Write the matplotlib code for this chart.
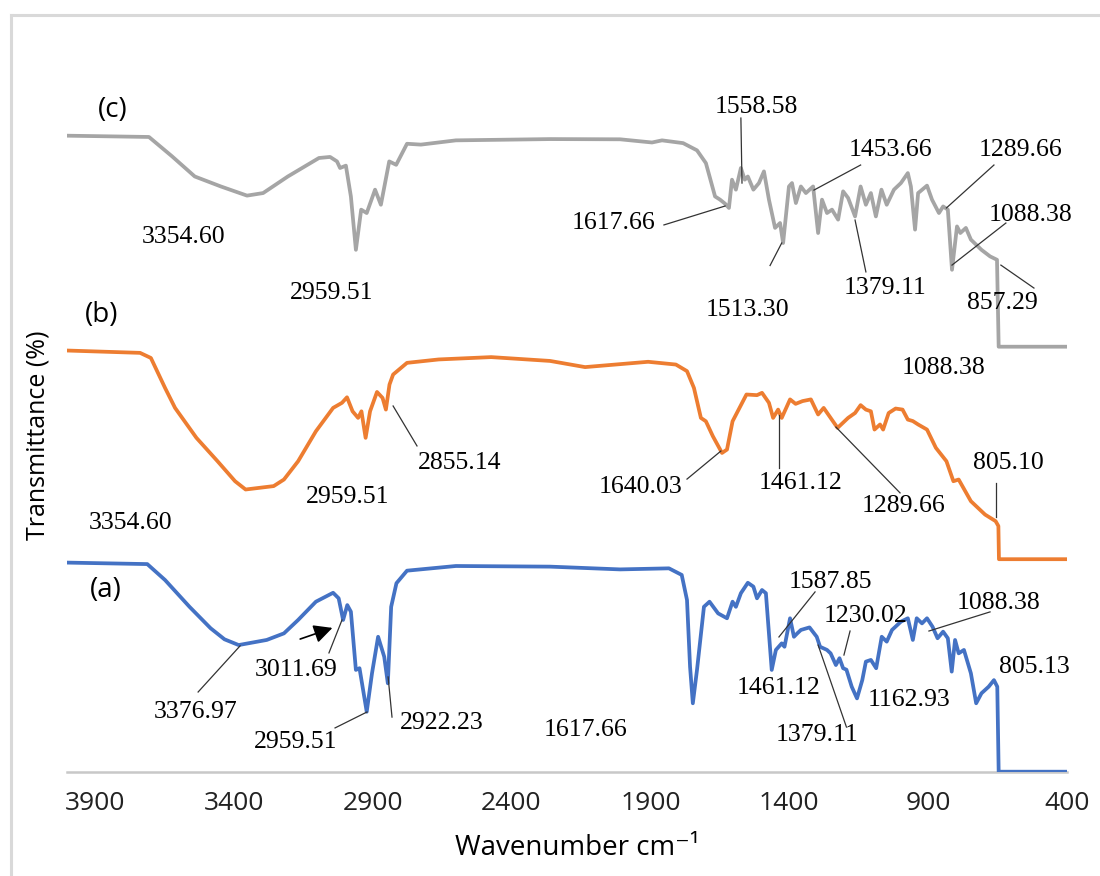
import matplotlib
matplotlib.use("Agg")
import matplotlib.pyplot as plt
from matplotlib.lines import Line2D

# ---- spectra (wavenumber cm-1, transmittance %) ----
wn_a = [4000, 3711, 3647, 3559, 3483, 3433, 3382, 3281, 3219, 3168, 3104, 3042, 3022, 3006,
        2991, 2978, 2960, 2947, 2921, 2902, 2880, 2858, 2845, 2833, 2814, 2776, 2600, 2261,
        2009, 1833, 1787, 1768, 1757, 1747, 1732, 1707, 1687, 1656, 1624, 1604, 1592, 1574,
        1549, 1529, 1516, 1498, 1484, 1473, 1463, 1448, 1427, 1417, 1397, 1383, 1371, 1358,
        1327, 1301, 1289, 1264, 1251, 1232, 1219, 1206, 1194, 1175, 1156, 1137, 1124, 1106,
        1087, 1067, 1049, 1030, 998, 973, 955, 941, 922, 904, 884, 866, 846, 829, 815, 803,
        790, 771, 746, 727, 708, 682, 663, 651, 646, 400]
t_a = [98.4, 97.7, 90.2, 77.6, 67.5, 62.3, 59.6, 62.0, 65.1, 71.4, 80.0, 84.2, 81.6, 71.4,
       78.4, 75.3, 47.9, 48.7, 28.2, 46.3, 63.5, 54.1, 41.6, 77.6, 88.7, 94.6, 96.8, 96.5,
       95.2, 95.7, 92.6, 80.8, 49.4, 32.2, 47.9, 77.6, 80.0, 74.5, 72.2, 80.0, 77.6, 84.0,
       88.9, 87.1, 81.6, 85.5, 84.0, 65.1, 47.9, 57.3, 60.4, 58.8, 72.2, 63.5, 65.1, 66.7,
       67.9, 63.5, 58.8, 57.3, 55.7, 50.2, 53.4, 48.7, 48.0, 40.0, 34.5, 43.1, 51.8, 52.6,
       48.7, 63.5, 61.2, 66.7, 70.6, 72.2, 62.0, 72.2, 69.8, 72.2, 68.2, 62.8, 65.9, 62.8,
       47.1, 62.0, 55.7, 57.3, 46.3, 32.2, 36.9, 40.0, 43.1, 40.0, 0, 0]

wn_b = [4000, 3737, 3698, 3647, 3611, 3534, 3458, 3395, 3357, 3256, 3219, 3168, 3104, 3042,
        3010, 2992, 2972, 2952, 2940, 2925, 2909, 2884, 2864, 2852, 2839, 2826, 2776, 2662,
        2473, 2261, 2135, 1908, 1808, 1768, 1743, 1718, 1700, 1675, 1642, 1624, 1604, 1579,
        1554, 1516, 1498, 1473, 1458, 1440, 1427, 1397, 1377, 1352, 1322, 1296, 1276, 1251,
        1226, 1188, 1163, 1143, 1124, 1106, 1093, 1073, 1062, 1042, 1017, 992, 973, 955, 936,
        904, 872, 834, 809, 790, 746, 695, 657, 647, 645, 400]
t_b = [98.2, 97.1, 94.7, 80.6, 71.2, 57.1, 46.1, 36.7, 32.8, 34.4, 37.5, 46.1, 60.2, 71.2,
       73.6, 76.2, 69.6, 66.5, 69.6, 57.1, 69.6, 78.7, 75.9, 70.4, 82.2, 86.9, 92.4, 94.0,
       95.1, 93.3, 90.4, 92.9, 91.6, 88.5, 80.6, 66.5, 64.9, 57.9, 50.0, 51.6, 64.9, 71.2,
       77.5, 77.2, 78.3, 73.6, 66.5, 70.4, 66.5, 75.2, 73.1, 74.4, 75.2, 68.1, 71.2, 66.5,
       61.8, 66.5, 68.8, 72.5, 70.4, 69.6, 61.0, 63.4, 61.0, 68.8, 70.9, 70.4, 65.7, 65.0, 63.4,
       61.0, 52.4, 46.1, 36.7, 37.5, 27.3, 21.0, 17.9, 15.6, 0, 0]

wn_c = [4000, 3705, 3622, 3540, 3446, 3352, 3294, 3205, 3093, 3053, 3028, 3017, 2996, 2978,
        2960, 2941, 2921, 2891, 2870, 2840, 2815, 2776, 2726, 2600, 2261, 2009, 1894, 1858,
        1782, 1732, 1700, 1667, 1649, 1631, 1617, 1606, 1592, 1574, 1560, 1549, 1529, 1509,
        1491, 1473, 1451, 1433, 1422, 1401, 1390, 1376, 1358, 1340, 1314, 1296, 1282, 1264,
        1246, 1224, 1206, 1188, 1163, 1143, 1124, 1106, 1088, 1068, 1049, 1023, 998, 973, 962,
        947, 936, 904, 886, 861, 846, 829, 814, 796, 784, 764, 746, 708, 677, 652, 646, 400]
t_c = [99.3, 98.7, 89.6, 80.1, 75.4, 71.1, 72.3, 80.1, 88.8, 89.3, 87.2, 84.1, 85.2, 70.7,
       45.6, 64.5, 62.9, 73.9, 66.8, 87.2, 85.6, 95.5, 95.1, 97.1, 97.7, 97.6, 96.1, 97.1,
       95.8, 92.4, 86.4, 70.7, 69.2, 67.3, 65.3, 78.6, 73.9, 84.1, 78.6, 80.1, 73.9, 77.0,
       82.5, 69.2, 55.9, 58.2, 48.8, 75.4, 77.0, 67.6, 75.4, 72.3, 75.4, 53.5, 69.2, 62.9,
       64.5, 59.8, 73.1, 70.0, 61.3, 75.4, 66.8, 72.3, 61.3, 73.9, 66.8, 73.9, 77.0, 81.7, 75.4,
       55.1, 72.3, 75.8, 69.2, 62.9, 66.0, 64.5, 36.2, 56.6, 53.5, 55.9, 50.4, 45.6, 42.5, 40.9,
       0, 0]

offsets = [0, 100, 200]
names = ["(a)", "(b)", "(c)"]
colors = ["#4472c4", "#ed7d31", "#a5a5a5"]
xticks = [3900, 3400, 2900, 2400, 1900, 1400, 900, 400]

# peak labels: text, text position, leader line (or None) -- positions are layout only
peak_labels = [
    ("3354.60", (3582, 251.6), None),
    ("2959.51", (3046, 225.3), None),
    ("1558.58", (1520, 312.8), ((1574, 307.6), (1570, 277))),
    ("1453.66", (1034, 292.6), ((1143, 285.5), (1311, 273.7))),
    ("1289.66", (569, 292.6), ((663, 285.5), (834, 265.3))),
    ("1088.38", (533, 262.0), ((620, 258.2), (814, 238.4))),
    ("857.29", (634, 220.6), ((519, 227.6), (638, 238.4))),
    ("1617.66", (2034, 258.2), ((1851, 257.3), (1631, 266.2))),
    ("1513.30", (1552, 217.3), ((1469, 238.2), (1427, 248.8))),
    ("1379.11", (1055, 227.6), ((1124, 235.2), (1163, 259.6))),
    ("1088.38", (846, 190.0), None),
    ("3354.60", (3770, 117.1), None),
    ("2959.51", (2988, 129.3), None),
    ("2855.14", (2585, 145.3), ((2740, 153.3), (2826, 172.1))),
    ("1640.03", (1937, 134.0), ((1768, 137.7), (1646, 150.9))),
    ("1461.12", (1361, 135.9), ((1437, 142.9), (1437, 167.9))),
    ("1289.66", (987, 125.1), ((1001, 131.2), (1232, 162.2))),
    ("805.10", (612, 145.3), ((656, 135.9), (656, 119.9))),
    ("3376.97", (3536, 28.1), ((3528, 37.5), (3377, 59.2))),
    ("3011.69", (3176, 47.9), ((3057, 55.9), (3010, 71.4))),
    ("2959.51", (3176, 14.0), ((3035, 20.6), (2920, 28.1))),
    ("2922.23", (2650, 22.9), ((2830, 25.7), (2844, 44.6))),
    ("1617.66", (2135, 19.6), None),
    ("1587.85", (1250, 89.3), ((1307, 84.6), (1437, 63.4))),
    ("1230.02", (1127, 73.3), ((1181, 66.2), (1203, 54.9))),
    ("1088.38", (645, 79.4), ((677, 75.2), (897, 66.2))),
    ("805.13", (519, 49.3), None),
    ("1461.12", (1437, 39.4), None),
    ("1162.93", (969, 33.7), None),
    ("1379.11", (1300, 17.3), ((1194, 21.0), (1296, 59.6))),
]
name_pos = [(3860, 85.5), (3874, 214.9), (3834, 311.4)]

W, H = 1100, 876
fig = plt.figure(figsize=(W / 100, H / 100), dpi=100)
ax = fig.add_axes([67 / W, 1 - 771.7 / H, 1000 / W, (771.7 - 60) / H])

for wn, t, off, c in zip([wn_a, wn_b, wn_c], [t_a, t_b, t_c], offsets, colors):
    ax.plot(wn, [v + off for v in t], color=c, lw=2.7, solid_joinstyle="round", zorder=3)

for name, pos in zip(names, name_pos):
    ax.text(pos[0], pos[1], name, fontsize=20, family="Open Sans", ha="center", va="center")

for txt, pos, line in peak_labels:
    ax.text(pos[0], pos[1], txt, fontsize=18.5, family="Liberation Serif",
            ha="center", va="center", zorder=5)
    if line is not None:
        ax.plot([line[0][0], line[1][0]], [line[0][1], line[1][1]],
                color="#333333", lw=0.9, zorder=4)

# filled arrow pointing to the 3011.69 shoulder
ax.annotate("", xy=(3035, 68.1), xytext=(3170, 62.0),
            arrowprops=dict(arrowstyle="-|>", color="black", lw=1.2, mutation_scale=28),
            zorder=5)

ax.set_xlim(4000, 400)
ax.set_ylim(0, (771.7 - 60) / 2.125)
ax.set_xticks(xticks)
ax.set_xticklabels([str(v) for v in xticks], fontsize=19, family="Open Sans", color="#222222")
ax.tick_params(axis="x", length=0, pad=14)
ax.set_yticks([])
for s in ["left", "right", "top"]:
    ax.spines[s].set_visible(False)
ax.spines["bottom"].set_color("#c8c8c8")
ax.spines["bottom"].set_linewidth(1.8)

fig.text(38 / W, 1 - 435 / H, "Transmittance (%)", rotation=90, fontsize=18,
         family="Open Sans", ha="center", va="center")
fig.text(577 / W, 1 - 848 / H, "Wavenumber cm\u207b\u00b9", fontsize=20,
         family=["Open Sans", "DejaVu Sans"], ha="center", va="center")

# chart frame (only left and top edges visible)
fig.add_artist(Line2D([11 / W, 11 / W], [0, 1 - 15 / H], color="#d9d9d9", lw=2.2))
fig.add_artist(Line2D([11 / W, 1], [1 - 15 / H, 1 - 15 / H], color="#d9d9d9", lw=2.2))

fig.savefig("out.png", dpi=100)
